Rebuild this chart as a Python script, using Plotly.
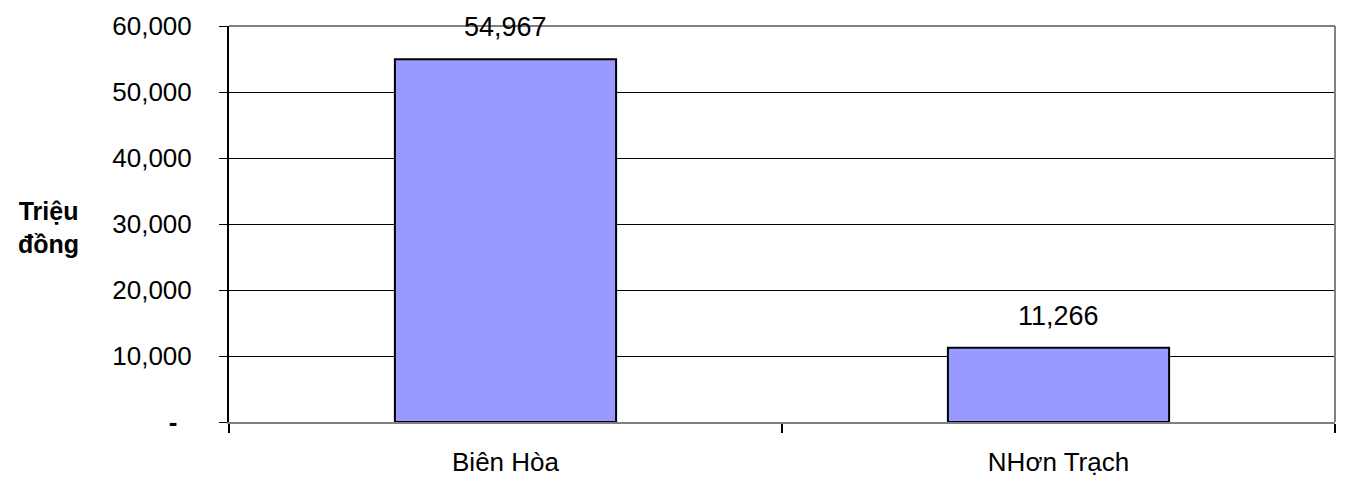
import plotly.graph_objects as go

FONT = "Liberation Sans, Arial, sans-serif"

categories = ["Biên Hòa", "NHơn Trạch"]
values = [54967, 11266]
y_ticks = [0, 10000, 20000, 30000, 40000, 50000, 60000]
y_labels = ["<b>-</b>\u00a0\u00a0", "10,000", "20,000", "30,000", "40,000", "50,000", "60,000"]

fig = go.Figure()
fig.add_trace(
    go.Bar(
        x=categories,
        y=values,
        marker_color="#9999FF",
        marker_line_color="black",
        marker_line_width=2,
        width=0.4,
        cliponaxis=False,
    )
)

# value labels above bars
for c, v in zip(categories, values):
    fig.add_annotation(
        x=c, y=v, text=f"{v:,}", showarrow=False,
        yanchor="bottom", yshift=15,
        font=dict(family=FONT, size=27, color="black"),
    )

fig.add_annotation(
    xref="paper", yref="paper", x=-0.163, y=0.49, xanchor="center",
    text="<b>Triệu<br>đồng</b>", showarrow=False, align="center",
    font=dict(family=FONT, size=25, color="black"),
)

# gray frame on top and right
fig.add_shape(type="line", xref="paper", yref="paper", x0=0, x1=1, y0=1, y1=1,
              line=dict(color="#808080", width=2))
fig.add_shape(type="line", xref="paper", yref="paper", x0=1, x1=1, y0=0, y1=1,
              line=dict(color="#808080", width=2))

# page body adds an 8px offset, margins compensate for it
fig.update_layout(
    width=1345,
    height=481,
    margin=dict(l=221, r=18, t=18, b=67),
    paper_bgcolor="white",
    plot_bgcolor="white",
    showlegend=False,
    font=dict(family=FONT, size=26, color="black"),
    xaxis=dict(
        automargin=False,
        showline=True, linecolor="#808080", linewidth=2,
        tickson="boundaries", ticks="outside", ticklen=9, tickcolor="black", tickwidth=2,
        ticklabelstandoff=16,
        tickfont=dict(size=26),
        showgrid=False,
    ),
    yaxis=dict(
        automargin=False,
        range=[0, 60000],
        tickvals=y_ticks, ticktext=y_labels,
        showline=True, linecolor="black", linewidth=2,
        ticks="outside", ticklen=8, tickcolor="black", tickwidth=1,
        ticklabelstandoff=22,
        tickfont=dict(size=26),
        showgrid=True, gridcolor="black", gridwidth=1,
        zeroline=False,
    ),
)

fig.write_html("out.html")
